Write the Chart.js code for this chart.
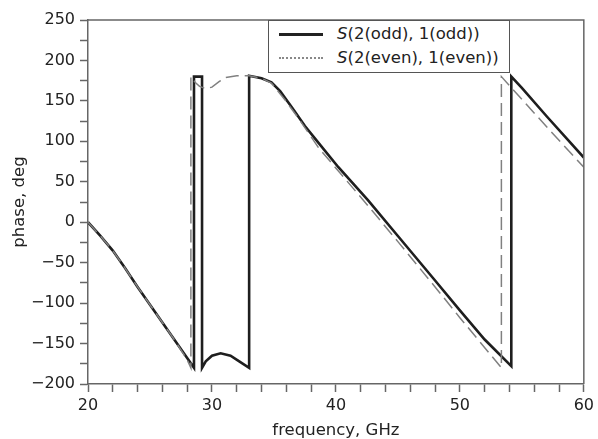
<!DOCTYPE html>
<html>
<head>
<meta charset="utf-8">
<script src="https://cdn.jsdelivr.net/npm/chart.js@4"></script>
<style>
  body { margin: 0; background: #fff; }
  #wrap { position: relative; width: 598px; height: 439px; }
  #legend {
    position: absolute; left: 268px; top: 20px; width: 240px; height: 51px;
    border: 1.5px solid #555; background: #fff;
    font-family: "DejaVu Sans", sans-serif; font-size: 16.5px; color: #222;
  }
  .row { position: absolute; left: 0; height: 20px; line-height: 20px; }
  .sample { position: absolute; left: 10px; width: 44px; top: 9px; }
  .txt { position: absolute; left: 68px; top: 0; white-space: nowrap; }
</style>
</head>
<body>
<div id="wrap">
  <canvas id="chartPhase" width="598" height="439"></canvas>
  <div id="legend">
    <div class="row" style="top:3px"><div class="sample" style="border-top:3px solid #222"></div><span class="txt"><i>S</i>(2(odd), 1(odd))</span></div>
    <div class="row" style="top:27px"><div class="sample" style="border-top:2px dotted #888"></div><span class="txt"><i>S</i>(2(even), 1(even))</span></div>
  </div>
</div>
<script>
// valores (GHz, grados)
const oddFreq  = [20, 21, 22, 23, 24, 25, 26, 27, 28, 28.55, 28.55, 29.2, 29.2, 29.5, 30.0, 30.7, 31.5, 32.2, 33.0, 33.0, 34.0, 34.8, 35.5, 36.5, 37.5, 38.5, 40.2, 42.6, 45, 48, 50, 52, 54.15, 54.15, 55, 57, 60];
const oddPhase = [0, -17, -35, -57, -80, -102, -124, -146, -168, -180, 180, 180, -180, -172, -165, -162, -165, -172, -180, 181, 178, 173, 162, 141, 119, 100, 68, 27, -17, -72, -109, -145, -178, 180, 166, 131, 80];

const evenFreq  = [20, 21, 22, 23, 24, 25, 26, 27, 28, 28.3, 28.3, 28.7, 29.0, 29.5, 30.0, 30.6, 31.1, 32, 33, 34, 34.8, 35.9, 37, 38.6, 41.5, 43.1, 45, 48, 50, 53.35, 53.35, 55, 57, 60];
const evenPhase = [0, -17, -35, -57, -80, -102, -124, -146, -170, -180, 180, 172, 168, 165, 167, 174, 179, 181, 181, 178, 172, 151, 128, 92, 40, 11, -24, -80, -118, -180, 180, 152, 118, 68];

const xTickLabels = [20, 30, 40, 50, 60];
const yTickLabels = [-200, -150, -100, -50, 0, 50, 100, 150, 200, 250];

function toPoints(xs, ys) {
  return xs.map((x, i) => ({ x: x, y: ys[i] }));
}

// marco superior y derecho
const framePlugin = {
  id: 'frame',
  afterDraw(chart) {
    const { ctx, chartArea: a } = chart;
    ctx.save();
    ctx.strokeStyle = '#666';
    ctx.lineWidth = 1.5;
    ctx.beginPath();
    ctx.moveTo(a.left, a.top);
    ctx.lineTo(a.right, a.top);
    ctx.lineTo(a.right, a.bottom);
    ctx.stroke();
    ctx.restore();
  }
};

const config = {
  type: 'line',
  plugins: [framePlugin],
  data: {
    datasets: [{
      label: 'S(2(even), 1(even))',
      data: toPoints(evenFreq, evenPhase),
      borderColor: '#808080',
      borderWidth: 1.5,
      borderDash: [13, 6],
      pointRadius: 0,
      tension: 0
    }, {
      label: 'S(2(odd), 1(odd))',
      data: toPoints(oddFreq, oddPhase),
      borderColor: '#1e1e1e',
      borderWidth: 2.6,
      pointRadius: 0,
      tension: 0
    }]
  },
  options: {
    responsive: false,
    animation: false,
    devicePixelRatio: 1,
    layout: { padding: { top: 20, right: 9, left: 0, bottom: 0 } },
    plugins: {
      legend: { display: false },
      tooltip: { enabled: false }
    },
    scales: {
      x: {
        type: 'linear',
        min: 20,
        max: 60,
        afterFit: (s) => { s.height = 55; },
        border: { display: true, color: '#666', width: 1.5 },
        grid: { drawOnChartArea: false, drawTicks: true, tickLength: 8, color: '#666', tickWidth: 1.5 },
        ticks: {
          stepSize: 2,
          autoSkip: false,
          maxRotation: 0,
          padding: 4,
          color: '#222',
          font: { family: 'DejaVu Sans', size: 16 },
          callback: (v) => xTickLabels.includes(v) ? String(v) : ''
        },
        title: {
          display: true,
          text: 'frequency, GHz',
          color: '#222',
          font: { family: 'DejaVu Sans', size: 16.5, lineHeight: 1.0 },
          padding: { top: 0, bottom: 0 }
        }
      },
      y: {
        type: 'linear',
        min: -200,
        max: 250,
        afterFit: (s) => { s.width = 88; },
        border: { display: true, color: '#666', width: 1.5 },
        grid: { drawOnChartArea: false, drawTicks: true, tickLength: 8, color: '#666', tickWidth: 1.5 },
        ticks: {
          stepSize: 25,
          autoSkip: false,
          padding: 5,
          color: '#222',
          font: { family: 'DejaVu Sans', size: 16 },
          callback: (v) => yTickLabels.includes(v) ? String(v).replace('-', '\u2212') : ''
        },
        title: {
          display: true,
          text: 'phase, deg',
          color: '#222',
          font: { family: 'DejaVu Sans', size: 16.5 },
          padding: { top: 10, bottom: 0 }
        }
      }
    }
  }
};

const phaseChart = new Chart(document.getElementById('chartPhase'), config);
</script>
</body>
</html>
